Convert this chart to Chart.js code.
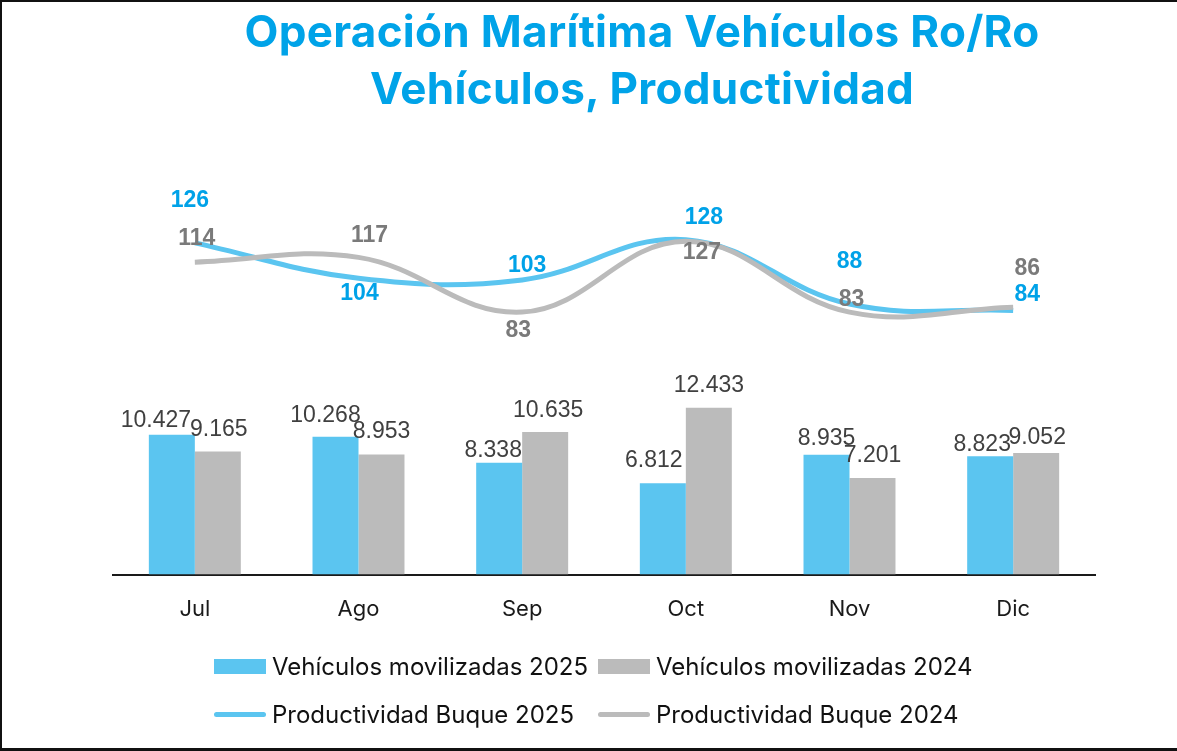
<!DOCTYPE html>
<html>
<head>
<meta charset="utf-8">
<script src="https://cdn.jsdelivr.net/npm/chart.js@4.4.0/dist/chart.umd.min.js"></script>
<style>
  html, body { margin: 0; padding: 0; background: #fff; }
  #wrap { position: relative; width: 1177px; height: 751px; overflow: hidden; background: #fff; }
  #chart { position: absolute; left: 0; top: 0; }
  #frame { position: absolute; left: 0; top: 0; width: 1177px; height: 751px; box-sizing: border-box;
           border-top: 2px solid #111; border-left: 2px solid #111; border-bottom: 3px solid #111; pointer-events: none; }
  #title { position: absolute; top: 3px; left: 192px; width: 900px; text-align: center;
           font: bold 44px Inter, "Liberation Sans", sans-serif; line-height: 57px; color: #00A3E8; letter-spacing: 0.3px; }
  .leg { position: absolute; height: 30px; display: flex; align-items: center;
         font: 24px Inter, "Liberation Sans", sans-serif; color: #111; white-space: nowrap; }
  .leg .sw { width: 52px; margin-right: 6px; }
</style>
</head>
<body>
<div id="wrap">
  <canvas id="chart" width="1177" height="751"></canvas>
  <div id="title">Operación Marítima Vehículos Ro/Ro<br>Vehículos, Productividad</div>
  <div id="legend"></div>
  <div id="frame"></div>
</div>
<script>
// Datos
const months = ['Jul', 'Ago', 'Sep', 'Oct', 'Nov', 'Dic'];
const vehiculos2025 = [10427, 10268, 8338, 6812, 8935, 8823];
const vehiculos2024 = [9165, 8953, 10635, 12433, 7201, 9052];
const productividad2025 = [126, 104, 103, 128, 88, 84];
const productividad2024 = [114, 117, 83, 127, 83, 86];

const azul = '#5BC5F0';
const gris = '#BBBBBB';

// formato con punto de miles
function fmt(v) {
    return String(v).replace(/\B(?=(\d{3})+(?!\d))/g, '.');
}

// Ajustes de etiquetas (desplazamientos como en el original)
const labelStyles = [
    { font: '23px "Liberation Sans", Arial', color: '#404040', dx: [-16, -10, -6, -9, 0, -8], gap: [8, 15, 6, 16, 10, 5] },
    { font: '23px "Liberation Sans", Arial', color: '#404040', dx: [1, 0, 3, 0, 0, 1], gap: [16, 16, 15, 16, 16, 9] },
    { font: 'bold 23px "Liberation Sans", Arial', color: '#00A2E8', dx: [-5, 1, 5, 18, 0, 14], dy: [-42, 15, -14, -22, -42, -16] },
    { font: 'bold 23px "Liberation Sans", Arial', color: '#7A7A7A', dx: [2, 11, -4, 16, 2, 14], dy: [-24, -22, 19, 11, -12, -39] }
];

const valueLabels = {
    id: 'valueLabels',
    afterDatasetsDraw(chart) {
        const ctx = chart.ctx;
        chart.data.datasets.forEach((ds, i) => {
            const meta = chart.getDatasetMeta(i);
            const st = labelStyles[i];
            ctx.save();
            ctx.font = st.font;
            ctx.fillStyle = st.color;
            ctx.textAlign = 'center';
            meta.data.forEach((el, j) => {
                const text = fmt(ds.data[j]);
                if (ds.type === 'bar') {
                    ctx.textBaseline = 'alphabetic';
                    ctx.fillText(text, el.x + st.dx[j], el.y - st.gap[j]);
                } else {
                    ctx.textBaseline = 'middle';
                    ctx.fillText(text, el.x + st.dx[j], el.y + st.dy[j]);
                }
            });
            ctx.restore();
        });
    }
};

const ctx = document.getElementById('chart').getContext('2d');
const chart = new Chart(ctx, {
    data: {
        labels: months,
        datasets: [{
            type: 'bar',
            label: 'Vehículos movilizadas 2025',
            data: vehiculos2025,
            backgroundColor: azul,
            yAxisID: 'y',
            order: 2
        }, {
            type: 'bar',
            label: 'Vehículos movilizadas 2024',
            data: vehiculos2024,
            backgroundColor: gris,
            yAxisID: 'y',
            order: 3
        }, {
            type: 'line',
            label: 'Productividad Buque 2025',
            data: productividad2025,
            borderColor: azul,
            backgroundColor: azul,
            borderWidth: 5,
            pointRadius: 0,
            tension: 0.4,
            yAxisID: 'y1',
            order: 1
        }, {
            type: 'line',
            label: 'Productividad Buque 2024',
            data: productividad2024,
            borderColor: gris,
            backgroundColor: gris,
            borderWidth: 5,
            pointRadius: 0,
            tension: 0.4,
            yAxisID: 'y1',
            order: 0
        }]
    },
    options: {
        responsive: false,
        animation: false,
        layout: { padding: { left: 113, right: 82, top: 172, bottom: 106 } },
        datasets: { bar: { barPercentage: 1, categoryPercentage: 0.562 } },
        plugins: {
            legend: { display: false },
            title: { display: false },
            tooltip: { enabled: false }
        },
        scales: {
            x: {
                grid: { display: false, drawTicks: false },
                border: { display: true, color: '#1a1a1a', width: 2 },
                ticks: {
                    color: '#1a1a1a',
                    padding: 22,
                    font: { family: 'Inter', size: 22 }
                }
            },
            y: { display: false, min: 0, max: 30000 },
            y1: { display: false, min: -80, max: 170 }
        }
    },
    plugins: [valueLabels]
});

// Leyenda en HTML (2 x 2)
const legCols = [214, 598];
const legRows = [666, 714];
const legend = document.getElementById('legend');
chart.data.datasets.forEach((ds, i) => {
    const item = document.createElement('div');
    item.className = 'leg';
    item.style.left = legCols[i % 2] + 'px';
    item.style.top = (legRows[Math.floor(i / 2)] - 15) + 'px';
    const sw = document.createElement('span');
    sw.className = 'sw';
    if (ds.type === 'bar') {
        sw.style.height = '15px';
        sw.style.background = ds.backgroundColor;
    } else {
        sw.style.height = '5px';
        sw.style.borderRadius = '3px';
        sw.style.background = ds.borderColor;
    }
    const txt = document.createElement('span');
    txt.textContent = ds.label;
    item.appendChild(sw);
    item.appendChild(txt);
    legend.appendChild(item);
});
</script>
</body>
</html>
